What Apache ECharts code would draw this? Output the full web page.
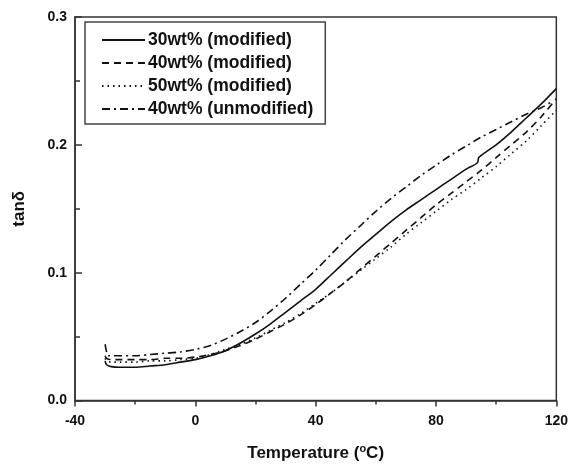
<!DOCTYPE html>
<html>
<head>
<meta charset="utf-8">
<script src="https://cdn.jsdelivr.net/npm/echarts@6/dist/echarts.min.js"></script>
<style>html,body{margin:0;padding:0;background:#fff}#c{width:571px;height:467px}</style>
</head>
<body>
<div id="c"></div>
<script>
const seriesNames = ['30wt% (modified)', '40wt% (modified)', '50wt% (modified)', '40wt% (unmodified)'];
const xTicks = [-40, 0, 40, 80, 120];
const yTicks = [0.0, 0.1, 0.2, 0.3];

const temp30 = [-30, -29.5, -28, -25, -20, -15, -10, -5, 0, 5, 10, 15, 20, 25, 30, 35, 40, 45, 50, 55, 60, 65, 70, 75, 80, 85, 90, 93.8, 94.2, 97, 100, 105, 110, 115, 120];
const val30 = [0.031, 0.028, 0.0265, 0.026, 0.026, 0.027, 0.028, 0.030, 0.032, 0.035, 0.039, 0.045, 0.052, 0.060, 0.069, 0.078, 0.087, 0.098, 0.109, 0.120, 0.130, 0.140, 0.149, 0.157, 0.165, 0.173, 0.181, 0.186, 0.190, 0.195, 0.200, 0.210, 0.221, 0.232, 0.244];

const temp40 = [-30, -29.5, -28, -25, -20, -15, -10, -5, 0, 5, 10, 15, 20, 25, 30, 35, 40, 45, 50, 55, 60, 65, 70, 75, 80, 85, 90, 95, 100, 105, 110, 115, 120];
const val40 = [0.035, 0.033, 0.032, 0.032, 0.032, 0.032, 0.033, 0.033, 0.034, 0.036, 0.039, 0.043, 0.048, 0.054, 0.060, 0.067, 0.075, 0.084, 0.093, 0.103, 0.113, 0.123, 0.133, 0.143, 0.153, 0.162, 0.171, 0.180, 0.190, 0.200, 0.210, 0.222, 0.236];

const temp50 = [-30, -29.5, -28, -25, -20, -15, -10, -5, 0, 5, 10, 15, 20, 25, 30, 35, 40, 45, 50, 55, 60, 65, 70, 75, 80, 85, 90, 95, 100, 105, 110, 115, 120];
const val50 = [0.033, 0.031, 0.030, 0.030, 0.030, 0.031, 0.031, 0.032, 0.033, 0.036, 0.040, 0.044, 0.049, 0.055, 0.061, 0.068, 0.076, 0.084, 0.093, 0.102, 0.111, 0.120, 0.130, 0.139, 0.148, 0.157, 0.165, 0.174, 0.183, 0.193, 0.203, 0.215, 0.227];

const tempU = [-30, -29.5, -29, -28, -25, -20, -15, -10, -5, 0, 5, 10, 15, 20, 25, 30, 35, 40, 45, 50, 55, 60, 65, 70, 75, 80, 85, 90, 95, 100, 105, 110, 115, 118];
const valU = [0.044, 0.038, 0.035, 0.035, 0.035, 0.035, 0.036, 0.037, 0.038, 0.040, 0.043, 0.048, 0.054, 0.061, 0.070, 0.080, 0.091, 0.102, 0.114, 0.126, 0.137, 0.148, 0.158, 0.167, 0.176, 0.184, 0.192, 0.199, 0.206, 0.212, 0.218, 0.224, 0.229, 0.233];

const temps = [temp30, temp40, temp50, tempU];
const vals = [val30, val40, val50, valU];
const dashTypes = ['solid', [7, 5], [1.5, 4], [8, 4, 2, 4]];

const chart = echarts.init(document.getElementById('c'), null, {renderer: 'canvas'});
const axisCol = '#333';
const font = 'Arial, "Liberation Sans", sans-serif';

const series = seriesNames.map((n, i) => ({
  name: n,
  type: 'line',
  symbol: 'none',
  smooth: 0.3,
  data: temps[i].map((t, j) => [t, vals[i][j]]),
  lineStyle: {color: '#111', width: 1.6, type: dashTypes[i]},
  itemStyle: {color: '#111'},
  z: 3
}));

chart.setOption({
  animation: false,
  backgroundColor: '#fff',
  grid: {left: 75, right: 14, top: 17, bottom: 61, show: true, borderColor: axisCol, borderWidth: 1.5},
  legend: {
    orient: 'vertical',
    left: 85,
    top: 22,
    padding: [9, 12, 6, 16],
    itemWidth: 43,
    itemHeight: 14,
    itemGap: 5,
    borderColor: '#444',
    borderWidth: 1.5,
    backgroundColor: '#fff',
    itemStyle: {opacity: 0},
    textStyle: {fontFamily: font, fontWeight: 'bold', fontSize: 17.5, color: '#111', lineHeight: 17, padding: [0, 0, 0, -2]},
    data: seriesNames.map(n => ({name: n}))
  },
  xAxis: {
    type: 'value',
    min: xTicks[0],
    max: xTicks[xTicks.length - 1],
    interval: 40,
    name: 'Temperature ({s|o}C)',
    nameLocation: 'middle',
    nameGap: 43,
    nameTextStyle: {fontFamily: font, fontWeight: 'bold', fontSize: 17, color: '#111',
      rich: {s: {fontFamily: font, fontWeight: 'bold', fontSize: 11, color: '#111', verticalAlign: 'top', padding: [0, 0, 9, 0]}}},
    axisLine: {show: true, onZero: false, lineStyle: {color: axisCol, width: 1.5}},
    axisTick: {show: true, inside: false, length: 6, lineStyle: {color: axisCol, width: 1.5}},
    minorTick: {show: true, splitNumber: 2, length: 4, lineStyle: {color: axisCol, width: 1.5}},
    splitLine: {show: false},
    axisLabel: {fontFamily: font, fontWeight: 'bold', fontSize: 14, color: '#111', margin: 14,
      formatter: v => xTicks.includes(v) ? String(v) : ''}
  },
  yAxis: {
    type: 'value',
    min: yTicks[0],
    max: yTicks[yTicks.length - 1],
    interval: 0.1,
    name: 'tanδ',
    nameLocation: 'middle',
    nameGap: 47,
    nameTextStyle: {fontFamily: font, fontWeight: 'bold', fontSize: 17, color: '#111'},
    axisLine: {show: true, onZero: false, lineStyle: {color: axisCol, width: 1.5}},
    axisTick: {show: true, inside: true, length: 7, lineStyle: {color: axisCol, width: 1.5}},
    minorTick: {show: true, splitNumber: 2, length: 5, lineStyle: {color: axisCol, width: 1.5}},
    splitLine: {show: false},
    axisLabel: {fontFamily: font, fontWeight: 'bold', fontSize: 14, color: '#111', margin: 8,
      formatter: v => v.toFixed(1)}
  },
  series: series
});
</script>
</body>
</html>
